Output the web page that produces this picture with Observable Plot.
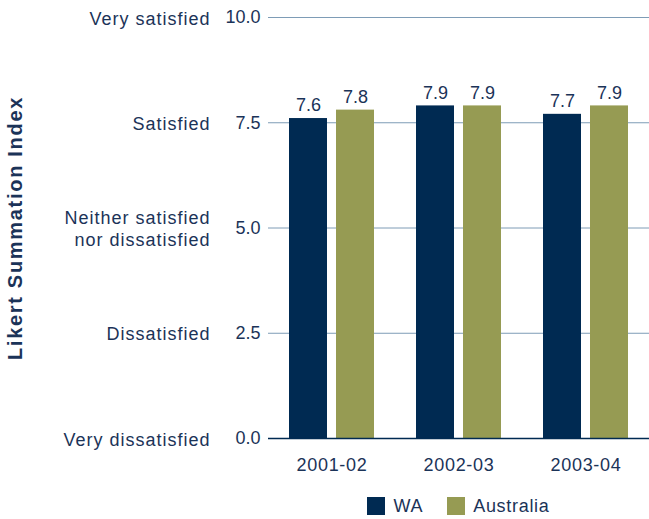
<!DOCTYPE html>
<html>
<head>
<meta charset="utf-8">
<script src="https://cdn.jsdelivr.net/npm/d3@7"></script>
<script src="https://cdn.jsdelivr.net/npm/@observablehq/plot@0.6"></script>
<style>
  body { margin: 0; background: #fff; font-family: "Liberation Sans", Arial, sans-serif; }
  #legend { display: flex; justify-content: center; padding-left: 268px; width: 381px; gap: 24px; font-size: 18px; letter-spacing: 0.7px; color: #1b3358; height: 26px; padding-top: 7px; align-items: center; }
  #legend span.sw { display: inline-block; width: 18px; height: 18px; margin-right: 8px; vertical-align: -3px; }
</style>
</head>
<body>
<div id="chart"></div>
<script>
const years = ["2001-02", "2002-03", "2003-04"];
const series = ["WA", "Australia"];
const waValues = [7.6, 7.9, 7.7];
const ausValues = [7.8, 7.9, 7.9];
const yTicks = [0, 2.5, 5, 7.5, 10];
const yTickLabels = ["Very dissatisfied", "Dissatisfied", "Neither satisfied\nnor dissatisfied", "Satisfied", "Very satisfied"];
const colors = ["#002a52", "#969b53"];
const textColor = "#1b3358";
const yTitle = "Likert Summation Index";

const data = [];
years.forEach((yr, i) => {
  data.push({year: yr, series: series[0], value: waValues[i]});
  data.push({year: yr, series: series[1], value: ausValues[i]});
});

const chart = Plot.plot({
  width: 649,
  height: 486,
  marginLeft: 268,
  marginRight: 0,
  marginTop: 17,
  marginBottom: 48,
  style: {fontFamily: "'Liberation Sans', Arial, sans-serif", fontSize: "18px", color: textColor, background: "#fff"},
  fx: {domain: years, padding: 0, label: null, axis: null},
  x: {domain: series, paddingInner: 0.1875, paddingOuter: 0.4167, axis: null},
  y: {domain: [0, 10], label: null},
  color: {domain: series, range: colors},
  marks: [
    Plot.gridY(yTicks.slice(1), {stroke: "#7e9cb6", strokeOpacity: 1, strokeWidth: 1}),
    Plot.axisY(yTicks, {tickSize: 0, tickPadding: 8, tickFormat: d => d.toFixed(1), fill: textColor,
      label: yTitle, labelAnchor: "center", labelArrow: "none", labelOffset: 261}),
    Plot.axisY(yTicks, {tickSize: 0, tickPadding: 0, dx: -58, tickFormat: (d, i) => yTickLabels[i], fill: textColor, label: null, lineHeight: 1.25}),
    Plot.axisFx({anchor: "bottom", tickSize: 0, tickPadding: 20, fill: textColor, label: null}),
    Plot.barY(data, {fx: "year", x: "series", y: "value", fill: "series"}),
    Plot.ruleY([0], {stroke: "#002a52", strokeWidth: 1.5}),
    Plot.text(data, {fx: "year", x: "series", y: "value", text: d => d.value.toFixed(1), dy: -13, fill: textColor, fontSize: 18})
  ]
});

chart.querySelectorAll("text").forEach(t => {
  const s = t.textContent;
  if (s === yTitle) {
    t.setAttribute("font-weight", "bold");
    t.setAttribute("font-size", "20");
    t.style.letterSpacing = "1.7px";
  } else if (/[a-z]/.test(s)) {
    t.style.letterSpacing = "1px";
  } else if (years.includes(s)) {
    t.style.letterSpacing = "0.7px";
  }
});
document.getElementById("chart").appendChild(chart);

const legend = document.createElement("div");
legend.id = "legend";
series.forEach((s, i) => {
  const item = document.createElement("div");
  item.innerHTML = `<span class="sw" style="background:${colors[i]}"></span>${s}`;
  legend.appendChild(item);
});
document.body.appendChild(legend);
</script>
</body>
</html>
